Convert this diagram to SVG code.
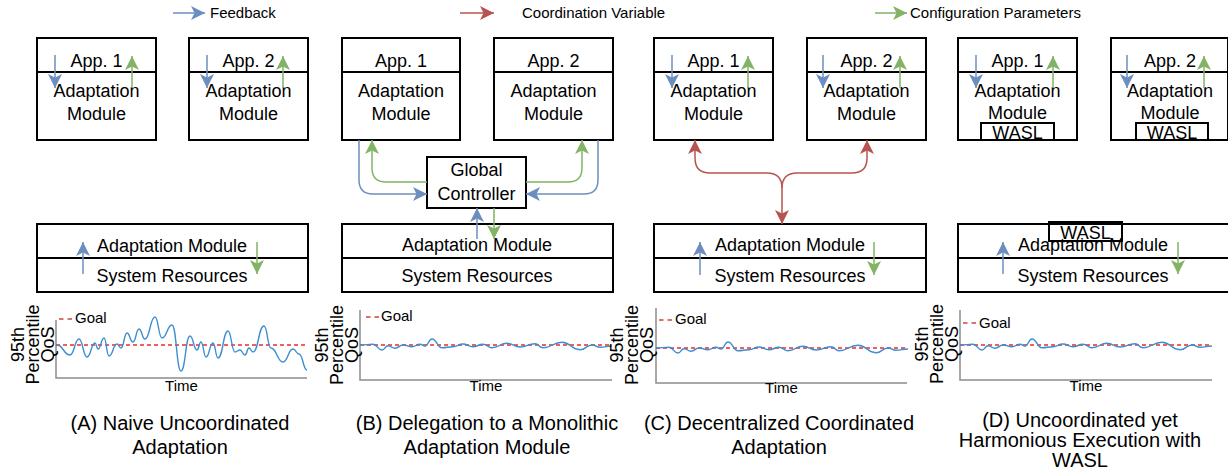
<svg xmlns="http://www.w3.org/2000/svg" xmlns:xlink="http://www.w3.org/1999/xlink" width="1228" height="472" viewBox="0 0 1228 472">
  <style>
    text { font-family: "Liberation Sans", Arial, sans-serif; fill: #000; }
    .lbl { font-size: 18px; text-anchor: middle; }
    .leg { font-size: 15px; }
    .cap { font-size: 20px; text-anchor: middle; }
    .small { font-size: 15px; }
    .axlbl { font-size: 18px; text-anchor: middle; }
    .box { fill: #fff; stroke: #000; stroke-width: 2; }
    .div { stroke: #000; stroke-width: 2; fill: none; }
    .fb { stroke: #6c8ebf; stroke-width: 1.5; fill: none; marker-end: url(#ahBlue); }
    .cfg { stroke: #82b366; stroke-width: 1.5; fill: none; marker-end: url(#ahGreen); }
    .coord { stroke: #b85450; stroke-width: 1.5; fill: none; }
    .axis { stroke: #8c8c8c; stroke-width: 1.5; fill: none; }
    .goal { stroke: #ee2a2a; stroke-width: 1.5; stroke-dasharray: 4 3; fill: none; }
    .goalkey { stroke: #d0443e; stroke-width: 1.5; stroke-dasharray: 4.5 4; fill: none; }
    .qos { stroke: #3d8ed0; stroke-width: 1.4; fill: none; }
  </style>
  <defs>
    <marker id="ahBlue" markerUnits="userSpaceOnUse" markerWidth="16" markerHeight="16" viewBox="0 0 16 16" refX="15" refY="8" orient="auto">
      <path d="M1,1 L15,8 L1,15 L4.5,8 Z" fill="#6c8ebf"/>
    </marker>
    <marker id="ahGreen" markerUnits="userSpaceOnUse" markerWidth="16" markerHeight="16" viewBox="0 0 16 16" refX="15" refY="8" orient="auto">
      <path d="M1,1 L15,8 L1,15 L4.5,8 Z" fill="#82b366"/>
    </marker>
    <marker id="ahRed" markerUnits="userSpaceOnUse" markerWidth="16" markerHeight="16" viewBox="0 0 16 16" refX="15" refY="8" orient="auto-start-reverse">
      <path d="M1,1 L15,8 L1,15 L4.5,8 Z" fill="#b85450"/>
    </marker>
    <!-- steady QoS trace, drawn relative to (axis x, goal y) -->
    <path id="calm" class="qos" d="M0,0 C6.5,0 6.5,-0.7 13,-0.7 C17.5,-0.7 17.5,5 22,5 C25,5 25,0.7 28,0.7 C31.5,0.7 31.5,3.3 35,3.3 C39,3.3 39,0 43,0 C47.5,0 47.5,1.7 52,1.7 C56,1.7 56,-0.7 60,-0.7 C62.5,-0.7 62.5,1 65,1 C68.5,1 68.5,-6 72,-6 C77,-6 77,2.7 82,2.7 C87.5,2.7 87.5,1.7 93,1.7 C98,1.7 98,-1 103,-1 C108,-1 108,1.7 113,1.7 C118,1.7 118,-0.7 123,-0.7 C127.5,-0.7 127.5,2.7 132,2.7 C139.5,2.7 139.5,-1.7 147,-1.7 C153.5,-1.7 153.5,2 160,2 C167.5,2 167.5,-1.3 175,-1.3 C179,-1.3 179,2.7 183,2.7 C192.5,2.7 192.5,-2.7 202,-2.7 C211,-2.7 211,4.7 220,4.7 C226,4.7 226,0 232,0 C236,0 236,2.3 240,2.3 C246,2.3 246,1 252,1"/>
  </defs>

  <rect width="1228" height="472" fill="#fff"/>

  <!-- legend -->
  <g id="legend">
    <path class="fb" d="M173,13 H205"/>
    <text class="leg" x="210" y="18">Feedback</text>
    <path class="coord" d="M460,13 H494" marker-end="url(#ahRed)"/>
    <text class="leg" x="522" y="18">Coordination Variable</text>
    <path class="cfg" d="M875,13 H907"/>
    <text class="leg" x="910" y="18">Configuration Parameters</text>
  </g>

  <!-- (A) application boxes -->
  <g id="a-app1">
    <rect class="box" x="37" y="38" width="119" height="102"/>
    <line class="div" x1="37" y1="72" x2="156" y2="72"/>
    <text class="lbl" x="96.5" y="67">App. 1</text>
    <text class="lbl" x="96.5" y="97">Adaptation</text>
    <text class="lbl" x="96.5" y="120">Module</text>
  </g>
  <g id="a-app2">
    <rect class="box" x="189" y="38" width="119" height="102"/>
    <line class="div" x1="189" y1="72" x2="308" y2="72"/>
    <text class="lbl" x="248.5" y="67">App. 2</text>
    <text class="lbl" x="248.5" y="97">Adaptation</text>
    <text class="lbl" x="248.5" y="120">Module</text>
  </g>
  <g id="a-system">
    <rect class="box" x="37" y="224" width="271" height="68"/>
    <line class="div" x1="37" y1="258" x2="308" y2="258"/>
    <text class="lbl" x="172" y="252">Adaptation Module</text>
    <text class="lbl" x="172" y="282">System Resources</text>
  </g>

  <!-- (B) application boxes and global controller -->
  <g id="b-app1">
    <rect class="box" x="342" y="38" width="118" height="102"/>
    <line class="div" x1="342" y1="72" x2="460" y2="72"/>
    <text class="lbl" x="401" y="67">App. 1</text>
    <text class="lbl" x="401" y="97">Adaptation</text>
    <text class="lbl" x="401" y="120">Module</text>
  </g>
  <g id="b-app2">
    <rect class="box" x="494" y="38" width="119" height="102"/>
    <line class="div" x1="494" y1="72" x2="613" y2="72"/>
    <text class="lbl" x="553.5" y="67">App. 2</text>
    <text class="lbl" x="553.5" y="97">Adaptation</text>
    <text class="lbl" x="553.5" y="120">Module</text>
  </g>
  <g id="b-global">
    <rect class="box" x="427" y="157" width="99" height="51"/>
    <text class="lbl" x="476.5" y="176">Global</text>
    <text class="lbl" x="476.5" y="200">Controller</text>
  </g>
  <g id="b-system">
    <rect class="box" x="342" y="224" width="271" height="68"/>
    <line class="div" x1="342" y1="258" x2="613" y2="258"/>
    <text class="lbl" x="477" y="251">Adaptation Module</text>
    <text class="lbl" x="477" y="282">System Resources</text>
  </g>

  <!-- (C) application boxes -->
  <g id="c-app1">
    <rect class="box" x="654" y="38" width="119" height="102"/>
    <line class="div" x1="654" y1="72" x2="773" y2="72"/>
    <text class="lbl" x="713.5" y="67">App. 1</text>
    <text class="lbl" x="713.5" y="97">Adaptation</text>
    <text class="lbl" x="713.5" y="120">Module</text>
  </g>
  <g id="c-app2">
    <rect class="box" x="807" y="38" width="119" height="102"/>
    <line class="div" x1="807" y1="72" x2="926" y2="72"/>
    <text class="lbl" x="866.5" y="67">App. 2</text>
    <text class="lbl" x="866.5" y="97">Adaptation</text>
    <text class="lbl" x="866.5" y="120">Module</text>
  </g>
  <g id="c-system">
    <rect class="box" x="654" y="224" width="272" height="68"/>
    <line class="div" x1="654" y1="258" x2="926" y2="258"/>
    <text class="lbl" x="790" y="251">Adaptation Module</text>
    <text class="lbl" x="790" y="282">System Resources</text>
  </g>

  <!-- (D) application boxes with WASL -->
  <g id="d-app1">
    <rect class="box" x="958" y="38" width="119" height="102"/>
    <line class="div" x1="958" y1="72" x2="1077" y2="72"/>
    <text class="lbl" x="1017.5" y="67">App. 1</text>
    <text class="lbl" x="1017.5" y="97">Adaptation</text>
    <text class="lbl" x="1017.5" y="119">Module</text>
    <rect class="box" x="981" y="123" width="73" height="17"/>
    <text class="lbl" x="1017.5" y="139">WASL</text>
  </g>
  <g id="d-app2">
    <rect class="box" x="1111" y="38" width="117" height="102"/>
    <line class="div" x1="1111" y1="72" x2="1228" y2="72"/>
    <text class="lbl" x="1170" y="67">App. 2</text>
    <text class="lbl" x="1170" y="97">Adaptation</text>
    <text class="lbl" x="1170" y="119">Module</text>
    <rect class="box" x="1136" y="123" width="72" height="17"/>
    <text class="lbl" x="1172" y="139">WASL</text>
  </g>
  <g id="d-system">
    <rect class="box" x="958" y="224" width="272" height="68"/>
    <line class="div" x1="958" y1="258" x2="1230" y2="258"/>
    <text class="lbl" x="1093" y="251">Adaptation Module</text>
    <text class="lbl" x="1093" y="282">System Resources</text>
    <rect x="1049" y="222" width="73" height="19" fill="none" stroke="#000" stroke-width="2"/>
    <text class="lbl" x="1085.5" y="239">WASL</text>
  </g>

  <!-- connectors -->
  <g id="connectors">
    <!-- (A) -->
    <path class="fb" d="M55,55 V88"/>
    <path class="cfg" d="M132,88 V56"/>
    <path class="fb" d="M207,55 V88"/>
    <path class="cfg" d="M283,88 V56"/>
    <path class="fb" d="M83,274 V242"/>
    <path class="cfg" d="M257,242 V274"/>
    <!-- (B) -->
    <path class="fb" d="M359,140 V180 Q359,194 373,194 H427"/>
    <path class="cfg" d="M427,182 H386 Q372,182 372,168 V140"/>
    <path class="cfg" d="M526,182 H568 Q582,182 582,168 V140"/>
    <path class="fb" d="M598,140 V180 Q598,194 584,194 H526"/>
    <path class="fb" d="M477,239 V208"/>
    <path class="cfg" d="M494,208 V239"/>
    <!-- (C) -->
    <path class="fb" d="M672,55 V88"/>
    <path class="cfg" d="M748,88 V56"/>
    <path class="fb" d="M823,55 V88"/>
    <path class="cfg" d="M900,88 V56"/>
    <path class="coord" d="M695,140 V158 Q695,173 710,173 H767 Q782,173 782,188 V224" marker-start="url(#ahRed)" marker-end="url(#ahRed)"/>
    <path class="coord" d="M867,140 V158 Q867,173 852,173 H797 Q782,173 782,188" marker-start="url(#ahRed)"/>
    <path class="fb" d="M700,275 V242"/>
    <path class="cfg" d="M874,242 V275"/>
    <!-- (D) -->
    <path class="fb" d="M976,55 V88"/>
    <path class="cfg" d="M1053,88 V56"/>
    <path class="fb" d="M1127,55 V88"/>
    <path class="cfg" d="M1204,88 V56"/>
    <path class="fb" d="M1003,274 V242"/>
    <path class="cfg" d="M1178,242 V274"/>
  </g>

  <!-- QoS charts -->
  <g id="chart-a">
    <path class="axis" d="M56,320 V378 H307"/>
    <line class="goal" x1="56" y1="345" x2="307" y2="345"/>
    <path class="qos" d="M57,345 C63.5,345 63.5,355 70,355 C74.5,355 74.5,339 79,339 C83,339 83,357 87,357 C91,357 91,343 95,343 C96.5,343 96.5,349 98,349 C101,349 101,338 104,338 C106.5,338 106.5,356 109,356 C113,356 113,344 117,344 C119,344 119,348 121,348 C124,348 124,333 127,333 C130,333 130,342 133,342 C136,342 136,329 139,329 C142,329 142,339 145,339 C150,339 150,317 155,317 C158.5,317 158.5,338 162,338 C167,338 167,325 172,325 C176.5,325 176.5,371 181,371 C185.5,371 185.5,336 190,336 C193.5,336 193.5,350 197,350 C199,350 199,342 201,342 C203.5,342 203.5,357 206,357 C209.5,357 209.5,343 213,343 C215.5,343 215.5,358 218,358 C223,358 223,331 228,331 C231.5,331 231.5,352 235,352 C237.5,352 237.5,350 240,350 C242.5,350 242.5,355 245,355 C247,355 247,348 249,348 C251,348 251,352 253,352 C258.5,352 258.5,326 264,326 C267.5,326 267.5,348 271,348 C277,348 277,362 283,362 C288,362 288,349 293,349 C296,349 296,354 299,354 C303,354 303,370 307,370"/>
    <line class="goalkey" x1="59" y1="319" x2="73" y2="319"/>
    <text class="small" x="75" y="323">Goal</text>
    <text class="small" x="181.5" y="391" text-anchor="middle">Time</text>
    <text class="axlbl" transform="translate(24,344.5) rotate(-90)">95th</text>
    <text class="axlbl" transform="translate(39,344.5) rotate(-90)">Percentile</text>
    <text class="axlbl" transform="translate(54,344.5) rotate(-90)">QoS</text>
  </g>
  <g id="chart-b">
    <path class="axis" d="M360,310 V380 H612"/>
    <line class="goal" x1="360" y1="345" x2="612" y2="345"/>
    <use xlink:href="#calm" transform="translate(360,345)"/>
    <line class="goalkey" x1="366" y1="317" x2="380" y2="317"/>
    <text class="small" x="381" y="321">Goal</text>
    <text class="small" x="486" y="391" text-anchor="middle">Time</text>
    <text class="axlbl" transform="translate(328,345) rotate(-90)">95th</text>
    <text class="axlbl" transform="translate(343,345) rotate(-90)">Percentile</text>
    <text class="axlbl" transform="translate(358,345) rotate(-90)">QoS</text>
  </g>
  <g id="chart-c">
    <path class="axis" d="M656,308 V383 H907"/>
    <line class="goal" x1="656" y1="348" x2="907" y2="348"/>
    <use xlink:href="#calm" transform="translate(656,348)"/>
    <line class="goalkey" x1="659" y1="320" x2="674" y2="320"/>
    <text class="small" x="675" y="324">Goal</text>
    <text class="small" x="781.5" y="393" text-anchor="middle">Time</text>
    <text class="axlbl" transform="translate(623,345) rotate(-90)">95th</text>
    <text class="axlbl" transform="translate(638,345) rotate(-90)">Percentile</text>
    <text class="axlbl" transform="translate(653,345) rotate(-90)">QoS</text>
  </g>
  <g id="chart-d">
    <path class="axis" d="M960,310 V380 H1212"/>
    <line class="goal" x1="960" y1="345" x2="1212" y2="345"/>
    <use xlink:href="#calm" transform="translate(960,345)"/>
    <line class="goalkey" x1="963" y1="323" x2="978" y2="323"/>
    <text class="small" x="979" y="328">Goal</text>
    <text class="small" x="1086" y="391" text-anchor="middle">Time</text>
    <text class="axlbl" transform="translate(928,344) rotate(-90)">95th</text>
    <text class="axlbl" transform="translate(943,344) rotate(-90)">Percentile</text>
    <text class="axlbl" transform="translate(958,344) rotate(-90)">QoS</text>
  </g>

  <!-- captions -->
  <g id="captions">
    <text class="cap" x="180" y="430">(A) Naive Uncoordinated</text>
    <text class="cap" x="180" y="454">Adaptation</text>
    <text class="cap" x="487" y="430">(B) Delegation to a Monolithic</text>
    <text class="cap" x="487" y="454">Adaptation Module</text>
    <text class="cap" x="779" y="430">(C) Decentralized Coordinated</text>
    <text class="cap" x="779" y="454">Adaptation</text>
    <text class="cap" x="1080" y="427">(D) Uncoordinated yet</text>
    <text class="cap" x="1080" y="447">Harmonious Execution with</text>
    <text class="cap" x="1080" y="467">WASL</text>
  </g>
</svg>
